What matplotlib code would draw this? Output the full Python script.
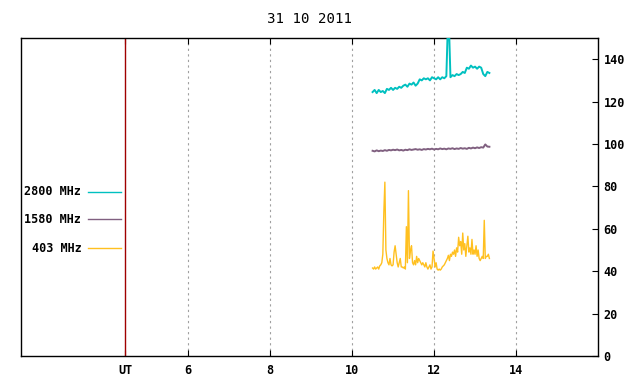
import numpy as np
import matplotlib
matplotlib.use('Agg')
import matplotlib.pyplot as plt

title = '31 10 2011'
tick_pos = [4.47, 6, 8, 10, 12, 14]
tick_lab = ['UT', '6', '8', '10', '12', '14']
grid_hours = [6, 8, 10, 12, 14]
t_start, t_end = 10.5, 13.35

# 2800 MHz
f2800 = [124.5, 125.5, 124, 125.5, 124.5, 125, 124, 126, 125.5, 126.5,
         125.5, 126.5, 126, 127, 126.5, 127.5, 128, 127, 128.5, 128,
         129, 127.5, 128.5, 130.5, 130, 131, 130.5, 131, 130, 131.5,
         131, 130.5, 131.5, 130.5, 131.5, 131, 132, 165, 131.5, 132.5,
         132, 133, 132.5, 133, 134, 133.5, 136, 135.5, 137, 136,
         136.5, 135.5, 136.5, 136, 133, 132, 134, 133.5]
# 1580 MHz
f1580 = [96.8, 96.5, 97, 96.6, 96.9, 96.7, 97.1, 96.8, 97.2, 97,
         97.3, 97.1, 97.4, 97, 97.2, 96.9, 97.3, 97.1, 97.5, 97.2,
         97.4, 97.6, 97.3, 97.5, 97.2, 97.6, 97.4, 97.7, 97.5, 97.8,
         97.4, 97.7, 97.5, 97.9, 97.6, 97.8, 97.5, 97.9, 97.7, 98,
         97.6, 97.9, 97.7, 98.1, 97.8, 98, 97.7, 98.2, 97.9, 98.3,
         98, 98.4, 98.1, 98.5, 98.3, 99.8, 98.8, 98.7]
# 403 MHz
f403 = [41.5, 41, 42, 41, 41.5, 42, 41, 42.5, 43, 44,
        48, 68, 82, 50, 46, 44, 43, 46, 43, 42.5,
        43, 49, 52, 48, 44, 42, 44, 46, 42, 42,
        41.5, 42, 41, 61, 44, 78, 46, 50, 52, 44,
        43, 45, 43, 47, 44, 46, 45, 44, 43, 44,
        43, 42, 44, 42, 41, 42, 43, 41, 42, 49.5,
        46, 42, 44, 41, 40.5, 41, 40.5, 41, 42, 42.5,
        43, 44, 45, 46, 47.5, 45, 48, 47, 49, 48,
        50, 47, 51, 49, 56, 52, 54, 48, 58, 50,
        53, 47, 52, 56.5, 49, 51, 48, 55, 48, 50,
        48, 52, 47, 50, 46, 45, 46, 47, 46, 64,
        46, 47, 47, 48, 46]

series = [('2800 MHz', f2800, '#00c0c0', 1.4),
          ('1580 MHz', f1580, '#806080', 1.4),
          ('403 MHz', f403, '#ffc020', 1.0)]

plt.rcParams['font.family'] = 'DejaVu Sans Mono'
plt.rcParams['font.weight'] = 'bold'
plt.rcParams['font.size'] = 8.5

fig = plt.figure(figsize=(6.4, 3.84), dpi=100)
ax = fig.add_axes([20.5/640, 28/384, 577.5/640, 318/384])

for h in grid_hours:
    ax.axvline(h, color='#a0a0a0', lw=0.8, ls=(0, (2, 3)), zorder=1)
ax.axvline(tick_pos[0], color='#a00000', lw=1, zorder=2)

for name, vals, col, lw in series:
    t = np.linspace(t_start, t_end, len(vals))
    ax.plot(t, vals, color=col, lw=lw, zorder=3)

# legend drawn by hand, gnuplot style
ys = [0.5167, 0.43, 0.3387]
for (name, vals, col, lw), yy in zip(series, ys):
    ax.text(0.1055, yy, name, transform=ax.transAxes, ha='right', va='center')
    ax.plot([0.1176, 0.1747], [yy, yy], transform=ax.transAxes, color=col, lw=1)

ax.set_xlim(1.91, 16)
ax.set_ylim(0, 150)
ax.set_xticks(tick_pos)
ax.set_xticklabels(tick_lab)
ax.set_yticks(range(0, 141, 20))
ax.yaxis.tick_right()
ax.tick_params(axis='y', direction='in', length=4, width=0.8, pad=4)
ax.tick_params(axis='x', direction='in', length=4, width=0.8, pad=6, top=True)
for s in ax.spines.values():
    s.set_linewidth(1)

ax.set_title(title, pad=11)

fig.savefig('out.png', dpi=100)
